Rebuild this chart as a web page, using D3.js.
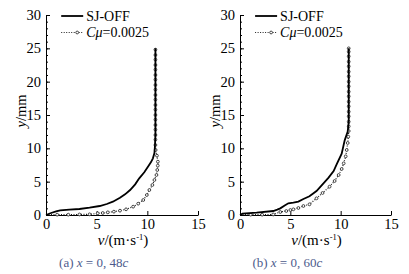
<!DOCTYPE html>
<html>
<head>
<meta charset="utf-8">
<script src="https://cdn.jsdelivr.net/npm/d3@7"></script>
<style>
  body { margin: 0; background: #fff; }
  svg text { font-family: "Liberation Serif", "Times New Roman", serif; fill: #000; }
</style>
</head>
<body>
<div id="chart"></div>
<script>
// Axis ticks
const xTicks = [0, 5, 10, 15];
const yTicks = [0, 5, 10, 15, 20, 25, 30];
const yMinorTicks = d3.range(0, 31, 1);

// Panel captions
const captions = ['(a)', '(b)'];
const captionPos = ['0, 48', '0, 60'];

// Series: [v (m/s), y (mm)]
const sjOffA = [[0, 0], [0.5, 0.3], [1.0, 0.55], [1.4, 0.7], [2.3, 0.8], [3.3, 0.9], [4.3, 1.1], [5.3, 1.35],
    [6.0, 1.65], [6.6, 2.0], [7.3, 2.6], [7.8, 3.1], [8.3, 3.75], [8.8, 4.6], [9.2, 5.5], [9.7, 6.4],
    [10.06, 7.25], [10.35, 7.9], [10.55, 8.5], [10.7, 9.3], [10.75, 10.25], [10.8, 12], [10.8, 25]];

const cmuA = [[0, 0.05], [1.1, 0.05], [2.2, 0.05], [3.3, 0.08], [4.3, 0.1], [5.1, 0.25], [5.6, 0.3], [6.1, 0.4],
    [6.7, 0.5], [7.3, 0.65], [7.9, 0.85], [8.6, 1.25], [9.1, 1.7], [9.6, 2.25], [9.95, 3.0], [10.2, 3.75],
    [10.5, 4.5], [10.7, 5.25], [10.9, 6.0], [10.98, 6.75], [11.03, 7.4], [11.04, 8.0], [10.95, 8.9],
    [10.82, 9.75], [10.8, 10.5], [10.8, 11.3], [10.8, 12.0], [10.8, 12.8], [10.8, 13.5], [10.8, 14.3],
    [10.8, 15.0], [10.8, 15.8], [10.8, 16.5], [10.8, 17.3], [10.8, 18.0], [10.8, 18.8], [10.8, 19.5],
    [10.8, 20.3], [10.8, 21.0], [10.8, 21.8], [10.8, 22.5], [10.8, 23.3], [10.8, 24.0], [10.8, 24.8]];

const sjOffB = [[0, 0], [0.25, 0.2], [1.65, 0.35], [3.3, 0.6], [3.7, 0.8], [4.0, 1.0], [4.4, 1.4], [4.8, 1.75],
    [5.3, 1.85], [5.8, 2.0], [6.3, 2.4], [6.9, 2.8], [7.6, 3.6], [8.2, 4.6], [8.8, 5.6], [9.3, 6.6],
    [9.6, 7.6], [10.1, 9.2], [10.4, 11.2], [10.7, 12.5], [10.8, 14], [10.8, 25]];

const cmuB = [[0, 0.05], [1.06, 0.05], [2.2, 0.05], [3.3, 0.08], [4.0, 0.45], [4.6, 0.6], [5.0, 0.75], [5.3, 0.85],
    [5.8, 1.05], [6.3, 1.35], [6.9, 1.6], [7.6, 2.5], [8.2, 3.3], [8.9, 4.25], [9.4, 5.1], [9.8, 6.0],
    [10.1, 6.9], [10.3, 7.75], [10.5, 8.8], [10.6, 9.75], [10.7, 10.8], [10.76, 11.75], [10.8, 12.6],
    [10.8, 13.3], [10.8, 14.0], [10.8, 14.8], [10.8, 15.5], [10.8, 16.3], [10.8, 17.0], [10.8, 17.8],
    [10.8, 18.5], [10.8, 19.3], [10.8, 20.0], [10.8, 20.8], [10.8, 21.5], [10.8, 22.3], [10.8, 23.0],
    [10.8, 23.8], [10.8, 24.5], [10.8, 25.0]];

const width = 409;
const height = 274;

const svg = d3.select('#chart')
    .append('svg')
    .attr('width', width)
    .attr('height', height);

function drawPanel(left, sjOff, cmu, caption, pos, axisRight) {
    const top = 15;
    const plotH = 200;
    const plotW = axisRight - left;

    const x = d3.scaleLinear().domain([0, 15]).range([0, plotW]);
    const y = d3.scaleLinear().domain([0, 30]).range([plotH, 0]);

    const g = svg.append('g').attr('transform', `translate(${left},${top})`);

    // minor ticks on y axis
    g.append('g')
        .call(d3.axisLeft(y).tickValues(yMinorTicks).tickSize(-2).tickFormat(''))
        .call(a => a.select('.domain').remove())
        .selectAll('line').attr('stroke', '#000');

    // y axis
    const yAxis = g.append('g')
        .call(d3.axisLeft(y).tickValues(yTicks).tickSize(-4).tickSizeOuter(0).tickPadding(5));
    yAxis.selectAll('text').style('font-size', '14.5px');
    yAxis.select('.domain').attr('stroke', '#000');

    // x axis
    const xAxis = g.append('g')
        .attr('transform', `translate(0,${plotH})`)
        .call(d3.axisBottom(x).tickValues(xTicks).tickSize(-4).tickSizeOuter(0).tickPadding(4));
    xAxis.selectAll('text').style('font-size', '14.5px');
    xAxis.select('.domain').attr('stroke', '#000');

    const line = d3.line().x(d => x(d[0])).y(d => y(d[1]));

    // Cmu series: dotted line with open circles
    g.append('path')
        .datum(cmu)
        .attr('fill', 'none')
        .attr('stroke', '#222')
        .attr('stroke-width', 1.2)
        .attr('stroke-dasharray', '1,1.5')
        .attr('d', line);

    g.selectAll('circle.cmu')
        .data(cmu.filter(d => d[0] > 0))
        .enter()
        .append('circle')
        .attr('class', 'cmu')
        .attr('cx', d => x(d[0]))
        .attr('cy', d => y(d[1]))
        .attr('r', 1.4)
        .attr('fill', '#fff')
        .attr('stroke', '#333')
        .attr('stroke-width', 0.9);

    // SJ-OFF series: solid line
    g.append('path')
        .datum(sjOff)
        .attr('fill', 'none')
        .attr('stroke', '#000')
        .attr('stroke-width', 1.8)
        .attr('d', line);

    // legend
    const lg = g.append('g').attr('transform', `translate(${x(1.5)},0)`);
    lg.append('line')
        .attr('x1', 0).attr('x2', 22).attr('y1', 1).attr('y2', 1)
        .attr('stroke', '#000').attr('stroke-width', 1.8);
    lg.append('text').attr('x', 25).attr('y', 5.5)
        .style('font-size', '14px').text('SJ-OFF');
    lg.append('line')
        .attr('x1', 0).attr('x2', 22).attr('y1', 17.5).attr('y2', 17.5)
        .attr('stroke', '#222').attr('stroke-width', 1.2).attr('stroke-dasharray', '1,1.5');
    lg.selectAll('circle')
        .data([16])
        .enter().append('circle')
        .attr('cx', d => d).attr('cy', 17.5).attr('r', 1.4)
        .attr('fill', '#fff').attr('stroke', '#333').attr('stroke-width', 0.9);
    const ct = lg.append('text').attr('x', 25).attr('y', 22).style('font-size', '14px');
    ct.append('tspan').style('font-style', 'italic').text('Cμ');
    ct.append('tspan').text('=0.0025');

    // y label
    const yl = g.append('text')
        .attr('transform', `translate(-20,${y(15.6)}) rotate(-90)`)
        .attr('text-anchor', 'middle')
        .style('font-size', '14.5px');
    yl.append('tspan').style('font-style', 'italic').text('y');
    yl.append('tspan').text('/mm');

    // x label
    const xl = g.append('text')
        .attr('x', x(7.6))
        .attr('y', plotH + 30)
        .attr('text-anchor', 'middle')
        .style('font-size', '15px');
    xl.append('tspan').style('font-style', 'italic').text('v');
    xl.append('tspan').text('/(m·s');
    xl.append('tspan').attr('dy', -5).style('font-size', '8.5px').text('-1');
    xl.append('tspan').attr('dy', 5).text(')');

    // caption
    const cap = g.append('text')
        .attr('x', x(4.7))
        .attr('y', plotH + 52)
        .attr('text-anchor', 'middle')
        .style('font-size', '13px')
        .style('fill', '#4d5b8c');
    cap.append('tspan').style('fill', '#4d5b8c').text(caption + ' ');
    cap.append('tspan').style('fill', '#4d5b8c').style('font-style', 'italic').text('x');
    cap.append('tspan').style('fill', '#4d5b8c').text(' = ' + pos);
    cap.append('tspan').style('fill', '#4d5b8c').style('font-style', 'italic').text('c');
}

drawPanel(46, sjOffA, cmuA, captions[0], captionPos[0], 198);
drawPanel(240, sjOffB, cmuB, captions[1], captionPos[1], 391);
</script>
</body>
</html>
